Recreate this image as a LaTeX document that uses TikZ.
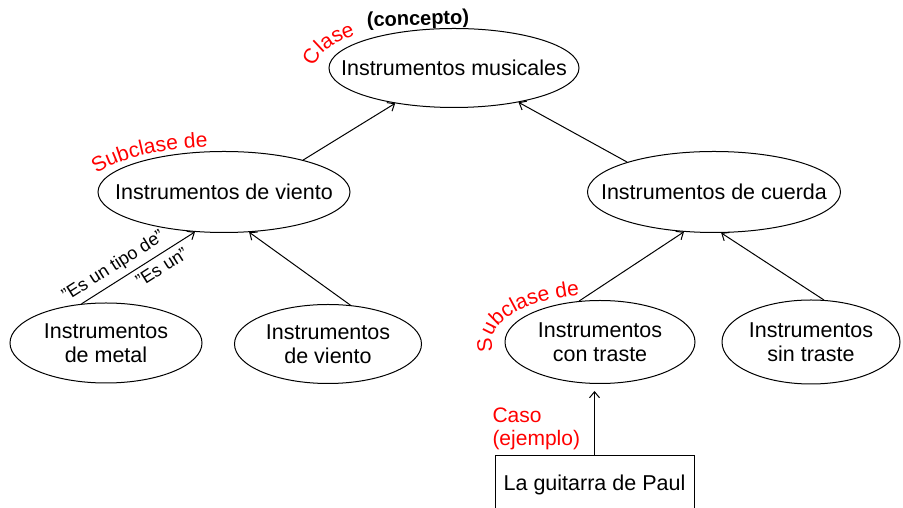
\documentclass[tikz,border=0pt]{standalone}
\usepackage{fontspec}
\setmainfont{Liberation Sans}
\usetikzlibrary{arrows.meta}
\usetikzlibrary{shapes,decorations.text}

\begin{document}
\begin{tikzpicture}[x=1pt, y=1pt, line width=1pt,
    inst/.style={draw, ellipse, inner sep=0pt},
    txt/.style={font=\fontsize{21.5}{24}\selectfont, align=center},
    quote/.style={font=\fontsize{18}{20}\selectfont, sloped},
    isa/.style={-{Straight Barb[length=6pt,width=10pt]}},
    redlabel/.style={text=red, font=\fontsize{21}{23}\selectfont}]
  \useasboundingbox (0,0) rectangle (903,508);
  \clip (0,0) rectangle (903,508);

  \node[inst, minimum width=250pt, minimum height=79pt,
    label={[txt]center:Instrumentos musicales}] (musicales) at (454,440) {};
  \node[inst, minimum width=252pt, minimum height=81pt,
    label={[txt]center:Instrumentos de viento}] (vientoA) at (224,316) {};
  \node[inst, minimum width=253pt, minimum height=81pt,
    label={[txt]center:Instrumentos de cuerda}] (cuerda) at (714,316) {};
  \node[inst, minimum width=192pt, minimum height=80pt,
    label={[txt]center:Instrumentos\\de metal}] (metal) at (106,165) {};
  \node[inst, minimum width=187pt, minimum height=79pt,
    label={[txt]center:Instrumentos\\de viento}] (vientoB) at (328,164) {};
  \node[inst, minimum width=190pt, minimum height=83pt,
    label={[txt]center:Instrumentos\\con traste}] (contraste) at (600,166) {};
  \node[inst, minimum width=178pt, minimum height=84pt,
    label={[txt]center:Instrumentos\\sin traste}] (sintraste) at (811,166) {};
  \node[draw, anchor=north, minimum width=199pt, inner ysep=0pt,
    text height=35pt, text depth=30pt, font=\fontsize{21.5}{24}\selectfont]
    (guitarra) at (594.5,53) {La guitarra de Paul};

  \draw[isa] (vientoA.22) -- (musicales.211);
  \draw[isa] (cuerda.161) -- (musicales.332);
  \draw[isa] (metal.122) --
    node[quote, above=2pt, pos=.35] {"Es un tipo de"}
    node[quote, below=2pt, pos=.65] {"Es un"} (vientoA.234);
  \draw[isa] (vientoB.60) -- (vientoA.302);
  \draw[isa] (contraste.117) -- (cuerda.233);
  \draw[isa] (sintraste.73) -- (cuerda.280);
  \draw[isa, shorten >=7pt] (guitarra.north) -- (guitarra.north |- contraste.south);

  \node[font=\fontsize{20}{24}\selectfont\bfseries, rotate=2] (concepto) at (418,488) {(concepto)};
  \node[redlabel, align=left, anchor=north west, inner sep=0pt] (caso) at (492,101) {Caso\\(ejemplo)};

  \path[decorate, decoration={text along path, text align=left, text color=red,
      text={|\fontsize{21}{23}\selectfont|Clase}}]
    ([shift={(178.8:138.5pt and 47pt)}]musicales.center)
    arc[start angle=178.8, end angle=80, x radius=138.5pt, y radius=47pt];
  \path[decorate, decoration={text along path, text align=left, text color=red,
      text={|\fontsize{21}{23}\selectfont|Subclase de}}]
    ([shift={(156.5:138.8pt and 45.2pt)}]vientoA.center)
    arc[start angle=156.5, end angle=50, x radius=138.8pt, y radius=45.2pt];
  \path[decorate, decoration={text along path, text align=left, text color=red,
      text={|\fontsize{21}{23}\selectfont|Subclase de}}]
    ([shift={(190.8:108.1pt and 47.5pt)}]contraste.center)
    arc[start angle=190.8, end angle=40, x radius=108.1pt, y radius=47.5pt];
\end{tikzpicture}
\end{document}
